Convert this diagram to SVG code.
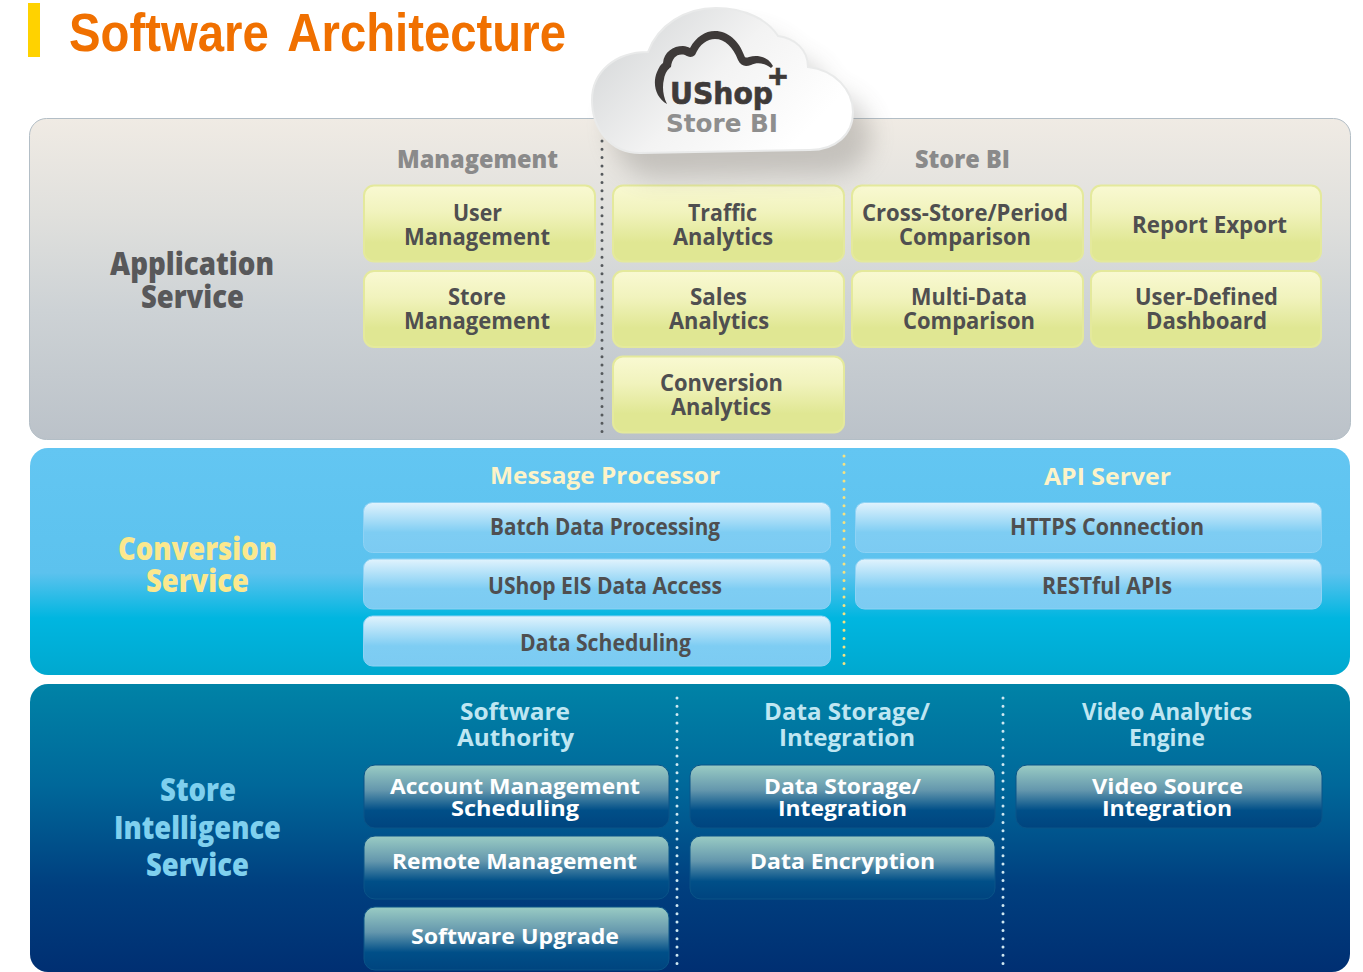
<svg xmlns="http://www.w3.org/2000/svg" width="1363" height="972" viewBox="0 0 1363 972">
<style>
text{font-family:"Open Sans","Noto Sans","Liberation Sans",sans-serif;font-weight:700;text-anchor:start}
.h{font-size:24px}
.b{font-size:23px;fill:#4f4f50}
.l{font-size:31px;font-weight:800}
.w{font-size:22px;fill:#fff}
.gh{fill:#8a8a8a;font-weight:800}
.ch{fill:#fdf3c8}
.sh{fill:#bfe6f2}
.n1{fill:url(#gy);stroke:#e4e99c;stroke-width:2}
.n2{fill:url(#gb);stroke:#8ed2f4;stroke-width:1}
.n3{fill:url(#gd);stroke:#0a5488;stroke-width:1}
.dot{fill:none;stroke-width:3;stroke-dasharray:0 8.3;stroke-linecap:round}
</style>
<defs>
<linearGradient id="pa" x1="0" y1="0" x2="0" y2="1"><stop offset="0" stop-color="#f0ebe4"/><stop offset=".3" stop-color="#e0e0dd"/><stop offset=".6" stop-color="#cdd2d5"/><stop offset="1" stop-color="#bbc2c9"/></linearGradient>
<linearGradient id="pb" x1="0" y1="0" x2="0" y2="1"><stop offset="0" stop-color="#63c6f2"/><stop offset=".55" stop-color="#5cc2ee"/><stop offset=".75" stop-color="#00b6e0"/><stop offset="1" stop-color="#00a8cf"/></linearGradient>
<linearGradient id="pc" x1="0" y1="0" x2="0" y2="1"><stop offset="0" stop-color="#0083a7"/><stop offset=".35" stop-color="#00689a"/><stop offset=".7" stop-color="#003f7f"/><stop offset="1" stop-color="#002f72"/></linearGradient>
<linearGradient id="gy" x1="0" y1="0" x2="0" y2="1"><stop offset="0" stop-color="#f9f9d2"/><stop offset=".35" stop-color="#f1f3bd"/><stop offset=".75" stop-color="#e0e793"/><stop offset="1" stop-color="#e0e793"/></linearGradient>
<linearGradient id="gb" x1="0" y1="0" x2="0" y2="1"><stop offset="0" stop-color="#e1f3fd"/><stop offset=".6" stop-color="#7ecdf3"/><stop offset="1" stop-color="#7ccbf2"/></linearGradient>
<linearGradient id="gd" x1="0" y1="0" x2="0" y2="1"><stop offset="0" stop-color="#9accc4"/><stop offset=".4" stop-color="#6497ad"/><stop offset=".72" stop-color="#004f88"/><stop offset="1" stop-color="#00447f"/></linearGradient>
<linearGradient id="cl" x1="0" y1=".35" x2=".85" y2=".8"><stop offset="0" stop-color="#d8dadb"/><stop offset=".5" stop-color="#f3f3f3"/><stop offset="1" stop-color="#fff"/></linearGradient>
<filter id="sh" x="-20%" y="-20%" width="150%" height="150%"><feGaussianBlur stdDeviation="12"/></filter>
</defs>

<g id="title">
<rect x="28" y="3" width="12" height="54" fill="#ffd200"/>
<text x="69" y="51" textLength="497" lengthAdjust="spacingAndGlyphs" style="font-family:'Liberation Sans',Arial,sans-serif;font-size:53px;word-spacing:8px;fill:#f07000">Software Architecture</text>
</g>

<g id="application-service">
<rect x="29.500" y="118.500" width="1321" height="321" rx="17" fill="url(#pa)" stroke="#b3bec6"/>
<text class="l" fill="#58585a"><tspan x="110" y="275" textLength="164" lengthAdjust="spacingAndGlyphs">Application</tspan><tspan x="141" y="308" textLength="103" lengthAdjust="spacingAndGlyphs">Service</tspan></text>
<text class="h gh" x="397" y="168" textLength="161" lengthAdjust="spacingAndGlyphs">Management</text>
<text class="h gh" x="915" y="168" textLength="95" lengthAdjust="spacingAndGlyphs">Store BI</text>
</g>
<g id="conversion-service">
<rect x="30" y="448" width="1320" height="227" rx="18" fill="url(#pb)"/>
<text class="l" fill="#fbe88e"><tspan x="118" y="560" textLength="159" lengthAdjust="spacingAndGlyphs">Conversion</tspan><tspan x="146" y="592" textLength="103" lengthAdjust="spacingAndGlyphs">Service</tspan></text>
<text class="h ch" x="490" y="484" textLength="230" lengthAdjust="spacingAndGlyphs">Message Processor</text>
<text class="h ch" x="1044" y="485" textLength="127" lengthAdjust="spacingAndGlyphs">API Server</text>
</g>
<g id="store-intelligence-service">
<rect x="30" y="684" width="1320" height="288" rx="18" fill="url(#pc)"/>
<text class="l" fill="#7fd0ee"><tspan x="160" y="801" textLength="76" lengthAdjust="spacingAndGlyphs">Store</tspan><tspan x="114" y="839" textLength="167" lengthAdjust="spacingAndGlyphs">Intelligence</tspan><tspan x="146" y="876" textLength="103" lengthAdjust="spacingAndGlyphs">Service</tspan></text>
<text class="h sh"><tspan x="460" y="720" textLength="110" lengthAdjust="spacingAndGlyphs">Software</tspan><tspan x="457" y="746" textLength="117" lengthAdjust="spacingAndGlyphs">Authority</tspan></text>
<text class="h sh"><tspan x="764" y="720" textLength="166" lengthAdjust="spacingAndGlyphs">Data Storage/</tspan><tspan x="779" y="746" textLength="136" lengthAdjust="spacingAndGlyphs">Integration</tspan></text>
<text class="h sh"><tspan x="1082" y="720" textLength="170" lengthAdjust="spacingAndGlyphs">Video Analytics</tspan><tspan x="1129" y="746" textLength="76" lengthAdjust="spacingAndGlyphs">Engine</tspan></text>
</g>

<g id="connectors">
<path class="dot" stroke="#55595c" d="M602 141V433"/>
<path class="dot" stroke="#f6e27f" d="M844 456V665"/>
<path class="dot" stroke="#cfe9f2" d="M677 698V965"/>
<path class="dot" stroke="#cfe9f2" d="M1003 698V965"/>
</g>

<g id="user-management"><rect class="n1" x="364" y="185.500" width="231" height="76" rx="10"/><text class="b"><tspan x="453" y="221" textLength="49" lengthAdjust="spacingAndGlyphs">User</tspan><tspan x="404" y="245" textLength="146" lengthAdjust="spacingAndGlyphs">Management</tspan></text></g>
<g id="store-management"><rect class="n1" x="364" y="271" width="231" height="76" rx="10"/><text class="b"><tspan x="448" y="305" textLength="58" lengthAdjust="spacingAndGlyphs">Store</tspan><tspan x="404" y="329" textLength="146" lengthAdjust="spacingAndGlyphs">Management</tspan></text></g>
<g id="traffic-analytics"><rect class="n1" x="613" y="185.500" width="231" height="76" rx="10"/><text class="b"><tspan x="688" y="221" textLength="69" lengthAdjust="spacingAndGlyphs">Traffic</tspan><tspan x="673" y="245" textLength="100" lengthAdjust="spacingAndGlyphs">Analytics</tspan></text></g>
<g id="sales-analytics"><rect class="n1" x="613" y="271" width="231" height="76" rx="10"/><text class="b"><tspan x="690" y="305" textLength="57" lengthAdjust="spacingAndGlyphs">Sales</tspan><tspan x="669" y="329" textLength="100" lengthAdjust="spacingAndGlyphs">Analytics</tspan></text></g>
<g id="conversion-analytics"><rect class="n1" x="613" y="356.500" width="231" height="76" rx="10"/><text class="b"><tspan x="660" y="391" textLength="123" lengthAdjust="spacingAndGlyphs">Conversion</tspan><tspan x="671" y="415" textLength="100" lengthAdjust="spacingAndGlyphs">Analytics</tspan></text></g>
<g id="cross-store-comparison"><rect class="n1" x="852" y="185.500" width="231" height="76" rx="10"/><text class="b"><tspan x="862" y="221" textLength="206" lengthAdjust="spacingAndGlyphs">Cross-Store/Period</tspan><tspan x="899" y="245" textLength="132" lengthAdjust="spacingAndGlyphs">Comparison</tspan></text></g>
<g id="multi-data-comparison"><rect class="n1" x="852" y="271" width="231" height="76" rx="10"/><text class="b"><tspan x="911" y="305" textLength="116" lengthAdjust="spacingAndGlyphs">Multi-Data</tspan><tspan x="903" y="329" textLength="132" lengthAdjust="spacingAndGlyphs">Comparison</tspan></text></g>
<g id="report-export"><rect class="n1" x="1091" y="185.500" width="230" height="76" rx="10"/><text class="b" x="1132" y="233" textLength="155" lengthAdjust="spacingAndGlyphs">Report Export</text></g>
<g id="user-defined-dashboard"><rect class="n1" x="1091" y="271" width="230" height="76" rx="10"/><text class="b"><tspan x="1135" y="305" textLength="143" lengthAdjust="spacingAndGlyphs">User-Defined</tspan><tspan x="1146" y="329" textLength="121" lengthAdjust="spacingAndGlyphs">Dashboard</tspan></text></g>

<g id="batch-data-processing"><rect class="n2" x="363.500" y="502.500" width="467" height="50" rx="9"/><text class="b" x="490" y="535" textLength="230" lengthAdjust="spacingAndGlyphs">Batch Data Processing</text></g>
<g id="ushop-eis-data-access"><rect class="n2" x="363.500" y="559" width="467" height="50" rx="9"/><text class="b" x="488" y="594" textLength="234" lengthAdjust="spacingAndGlyphs">UShop EIS Data Access</text></g>
<g id="data-scheduling"><rect class="n2" x="363.500" y="616" width="467" height="50" rx="9"/><text class="b" x="520" y="651" textLength="171" lengthAdjust="spacingAndGlyphs">Data Scheduling</text></g>
<g id="https-connection"><rect class="n2" x="855.500" y="502.500" width="466" height="50" rx="9"/><text class="b" x="1010" y="535" textLength="194" lengthAdjust="spacingAndGlyphs">HTTPS Connection</text></g>
<g id="restful-apis"><rect class="n2" x="855.500" y="559" width="466" height="50" rx="9"/><text class="b" x="1042" y="594" textLength="130" lengthAdjust="spacingAndGlyphs">RESTful APIs</text></g>

<g id="account-management-scheduling"><rect class="n3" x="364" y="765" width="305" height="63" rx="11"/><text class="w"><tspan x="390" y="794" textLength="250" lengthAdjust="spacingAndGlyphs">Account Management</tspan><tspan x="451" y="816" textLength="128" lengthAdjust="spacingAndGlyphs">Scheduling</tspan></text></g>
<g id="remote-management"><rect class="n3" x="364" y="836" width="305" height="63" rx="11"/><text class="w" x="392" y="869" textLength="245" lengthAdjust="spacingAndGlyphs">Remote Management</text></g>
<g id="software-upgrade"><rect class="n3" x="364" y="907" width="305" height="63" rx="11"/><text class="w" x="411" y="944" textLength="208" lengthAdjust="spacingAndGlyphs">Software Upgrade</text></g>
<g id="data-storage-integration"><rect class="n3" x="690" y="765" width="305" height="63" rx="11"/><text class="w"><tspan x="764" y="794" textLength="157" lengthAdjust="spacingAndGlyphs">Data Storage/</tspan><tspan x="778" y="816" textLength="129" lengthAdjust="spacingAndGlyphs">Integration</tspan></text></g>
<g id="data-encryption"><rect class="n3" x="690" y="836" width="305" height="63" rx="11"/><text class="w" x="750" y="869" textLength="185" lengthAdjust="spacingAndGlyphs">Data Encryption</text></g>
<g id="video-source-integration"><rect class="n3" x="1016" y="765" width="306" height="63" rx="11"/><text class="w"><tspan x="1092" y="794" textLength="151" lengthAdjust="spacingAndGlyphs">Video Source</tspan><tspan x="1102" y="816" textLength="130" lengthAdjust="spacingAndGlyphs">Integration</tspan></text></g>

<g id="ushop-cloud">
<path transform="translate(18 24)" d="M640 153C610 153 592 128 592 100C592 72 615 52 648 52C658 25 685 8 716 8C745 8 768 20 778 36C795 38 808 50 808 67C835 70 853 90 853 112C853 135 835 150 810 150Z" fill="#6d6a66" opacity=".3" filter="url(#sh)"/>
<path d="M640 153C610 153 592 128 592 100C592 72 615 52 648 52C658 25 685 8 716 8C745 8 768 20 778 36C795 38 808 50 808 67C835 70 853 90 853 112C853 135 835 150 810 150Z" fill="url(#cl)" stroke="#e9eaea" stroke-width="2"/>
<path d="M667 104C656 98 652 84 657 72C659 67 661 64 663 63C664 52 673 46 683 46C686 46 688 47 690 48C696 37 705 31 715 31C728 31 739 41 744 55C745 58 746 58 749 57C758 54 768 57 773 66L771 68C765 63 757 62 751 65C745 67 741 66 738 60C733 47 725 39 715 39C707 39 700 44 695 55C692 58 688 57 685 55C677 53 672 58 671 67C668 69 665 73 664 79C662 87 663 96 667 104Z" fill="#3e3a39"/>
<text style="font-family:'DejaVu Sans',sans-serif;font-size:31px;fill:#3e3a39;stroke:#3e3a39;stroke-width:.7"><tspan x="670" y="104" textLength="103" lengthAdjust="spacingAndGlyphs">UShop</tspan><tspan x="768" y="88" style="font-family:'Liberation Sans',sans-serif;font-size:34px;stroke-width:.5">+</tspan></text>
<text x="666" y="132" textLength="112" lengthAdjust="spacingAndGlyphs" style="font-family:'DejaVu Sans',sans-serif;font-size:24px;fill:#8e8e8e">Store BI</text>
</g>
</svg>
